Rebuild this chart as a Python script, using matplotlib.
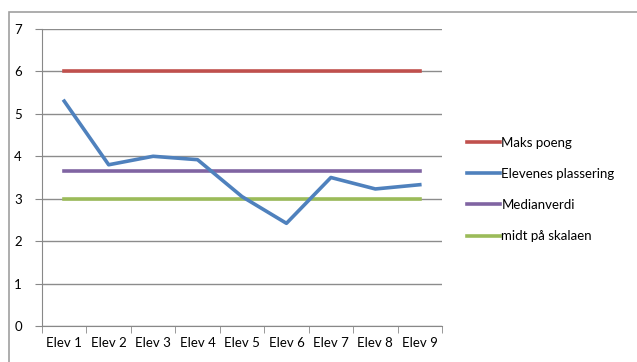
import numpy as np
import matplotlib.pyplot as plt
from matplotlib.patches import Rectangle

plt.rcParams['font.family'] = ['Lato', 'DejaVu Sans']

elever = ["Elev 1", "Elev 2", "Elev 3", "Elev 4", "Elev 5", "Elev 6", "Elev 7", "Elev 8", "Elev 9"]
plassering = [5.3, 3.8, 4.0, 3.92, 3.05, 2.42, 3.5, 3.23, 3.33]
maks_poeng = [6] * 9
medianverdi = [3.65] * 9
midt_skala = [3] * 9

W, H = 637, 362
fig = plt.figure(figsize=(W / 100, H / 100), dpi=100)

# chart frame (Excel-style border, runs off the right/bottom edge)
fig.patches.append(Rectangle((9 / W, -0.1), 1.1, (H - 12) / H + 0.1,
                             transform=fig.transFigure, fill=False,
                             edgecolor="#a0a0a0", linewidth=1.2))

ax = fig.add_axes([42 / W, (H - 326) / H, 400 / W, 297 / H])
x = np.arange(len(elever))

ax.plot(x, maks_poeng, color="#c0504d", lw=2.6, label="Maks poeng")
ax.plot(x, plassering, color="#4f81bd", lw=2.6, label="Elevenes plassering")
ax.plot(x, medianverdi, color="#8064a2", lw=2.6, label="Medianverdi")
ax.plot(x, midt_skala, color="#9bbb59", lw=2.6, label="midt på skalaen")

# reorder z so lines overlap as in the original
for line, z in zip(ax.lines, [3, 5, 4, 3]):
    line.set_zorder(z)

ax.set_xlim(-0.5, len(elever) - 0.5)
ax.set_ylim(0, 7)
ax.set_yticks(range(0, 8))
ax.set_xticks(x)
ax.set_xticklabels(elever)
ax.set_xticks(np.arange(-0.5, len(elever)), minor=True)
ax.tick_params(axis="x", which="major", length=0, pad=8, labelsize=9.5, colors="#000000")
ax.tick_params(axis="x", which="minor", length=5, color="#888888", direction="out")
ax.tick_params(axis="y", length=5, color="#888888", direction="out", pad=15, labelsize=9.5)
for lbl in ax.get_yticklabels():
    lbl.set_horizontalalignment("left")

ax.grid(axis="y", color="#8c8c8c", linewidth=1.0)
ax.set_axisbelow(True)
for s in ["top", "right"]:
    ax.spines[s].set_visible(False)
for s in ["left", "bottom"]:
    ax.spines[s].set_color("#888888")

ax.legend(loc="upper left", bbox_to_anchor=(1.0625, 0.637), frameon=False,
          fontsize=9.5, handlelength=2.5, handletextpad=0.1, labelspacing=1.45,
          borderaxespad=0, borderpad=0)

fig.savefig("out.png", dpi=100)
